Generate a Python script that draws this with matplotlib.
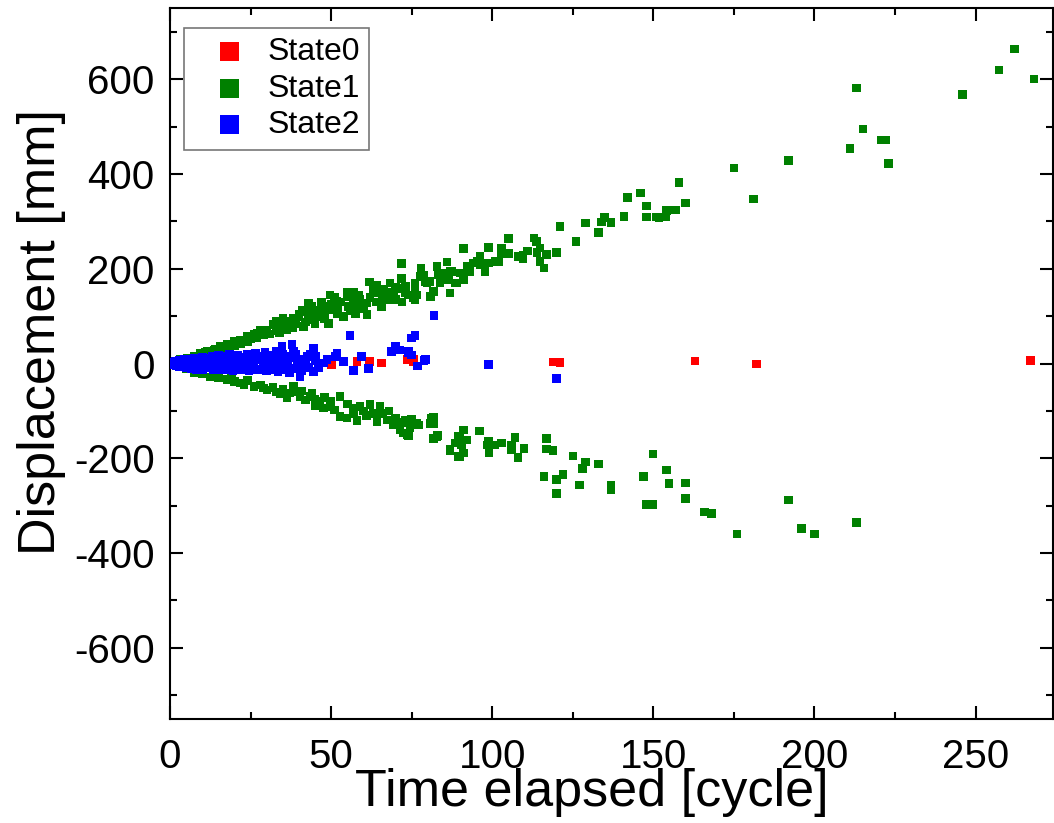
import numpy as np
import matplotlib
matplotlib.use('Agg')
import matplotlib.pyplot as plt
from matplotlib.ticker import MultipleLocator, AutoMinorLocator

plt.rcParams['font.family'] = ['Liberation Sans', 'DejaVu Sans']
plt.rcParams['axes.unicode_minus'] = False

# (cycle, displacement)
state0 = [(34.8, 8), (49.7, 8), (50.2, -3), (58.0, 4), (61.9, 4), (65.7, 1),
          (73.5, 8), (74.0, 8), (75.5, 8), (75.5, 4), (118.9, 3), (121.0, 2),
          (162.9, 5), (182.0, -1), (267.1, 6)]

state1 = [
    # far upper
    (175.0, 413), (181.1, 347), (191.9, 429), (213.1, 582), (215.1, 495), (211.0, 454),
    (220.6, 472), (222.2, 472), (223.0, 422), (246.0, 568), (257.2, 620), (262.1, 664),
    (268.1, 601),
    # far lower
    (165.9, -313), (168.0, -316), (176.0, -360), (191.9, -288), (196.0, -348),
    (200.0, -360), (213.1, -335),
    # lower band, middle
    (73.0, -120), (75.0, -118), (77.1, -130), (74.5, -136), (72.4, -147), (74.0, -153),
    (81.7, -113), (80.9, -126), (83.0, -152), (81.7, -158), (91.0, -140), (89.5, -154),
    (92.1, -161), (90.5, -172), (86.9, -183), (91.0, -189), (90.0, -196), (96.0, -142),
    (98.8, -165), (98.4, -172), (100.8, -172), (102.9, -168), (99.0, -189), (107.0, -156),
    (106.0, -172), (106.0, -182), (108.0, -198), (109.9, -179), (116.9, -158), (116.9, -180),
    (118.9, -184), (116.0, -239), (120.0, -245), (122.0, -234), (120.0, -274), (125.0, -195),
    (128.9, -208), (128.0, -221), (133.0, -212), (127.0, -256), (136.9, -257), (136.9, -267),
    (149.9, -191), (147.0, -239), (154.0, -225), (154.8, -253), (159.9, -252), (159.9, -285),
    (147.8, -298), (149.9, -298),
    # upper band, middle
    (157.9, 382), (159.9, 339), (156.9, 324), (154.0, 323), (153.8, 309), (151.7, 307),
    (150.9, 309), (147.9, 309), (147.9, 333), (146.0, 360), (141.9, 351), (140.9, 311),
    (136.9, 298), (134.8, 308), (133.9, 299), (133.0, 277), (128.9, 297), (126.0, 258),
    (121.0, 289), (120.0, 234), (116.9, 230), (116.0, 202), (114.8, 215), (112.9, 265),
    (113.8, 258), (114.8, 244), (113.9, 234), (111.0, 238), (109.6, 229), (108.0, 226),
    (109.6, 221), (105.0, 264), (105.0, 232), (102.9, 244), (102.9, 232), (101.9, 215),
    (100.8, 215), (98.9, 245), (97.7, 194), (98.8, 212), (96.2, 226), (96.2, 209),
    (95.2, 215), (94.1, 212), (93.1, 194), (92.1, 205), (91.0, 187), (90.0, 191),
    (91.0, 177), (89.0, 170), (91.0, 243), (85.9, 214), (86.9, 149), (82.8, 205),
    (83.3, 187), (84.3, 191), (84.8, 177), (83.8, 170), (86.4, 180), (87.4, 194),
    (81.7, 152), (80.9, 142), (77.9, 202), (77.6, 184), (79.2, 173), (80.7, 173),
    (76.0, 170), (76.0, 152), (76.6, 145), (76.0, 135), (72.9, 149), (71.9, 159),
    (71.9, 180), (71.9, 211), (78.6, 187), (79.7, 170), (85.9, 177), (88.4, 170), (86.9, 194),
    # upper band, near origin
    (75.5, 138), (73.0, 163), (69.3, 145), (68.3, 170), (67.3, 135), (65.7, 120),
    (66.2, 156), (64.2, 166), (61.9, 172), (63.1, 149), (61.1, 128), (61.1, 103),
    (58.5, 145), (60.0, 128), (56.9, 138), (57.5, 106), (54.9, 142), (55.4, 120),
    (53.8, 99), (51.8, 131), (50.7, 113), (49.2, 85), (49.7, 145), (47.6, 120),
    (46.6, 99), (44.5, 92), (42.5, 110), (41.0, 113), (41.4, 78), (38.4, 96),
    (36.3, 89), (36.3, 71), (34.2, 82), (32.2, 82), (30.1, 71), (28.0, 71),
    (26.0, 61), (23.9, 54), (21.8, 50), (19.8, 47), (17.7, 40), (15.6, 36),
    (13.6, 29), (11.5, 25), (9.4, 22), (7.4, 15), (5.3, 11), (3.3, 8),
    (60, 115), (58, 120), (56, 112), (52, 118), (50, 125), (48, 108), (46, 112),
    (45, 102), (44, 120), (43, 95), (40, 98), (39, 85), (38, 75), (35, 76), (33, 70),
    (31, 62), (29, 60), (27, 55), (25, 52), (24, 46), (22, 42), (20, 38), (18, 33),
    (16, 28), (14, 24), (12, 20), (10, 17), (8, 12), (6, 9), (4, 5), (2, 3),
    (62, 140), (64, 130), (66, 140), (68, 150), (70, 160), (70, 135), (72, 130),
    (74, 145), (65, 155), (63, 160), (59, 135), (57, 150), (53, 130), (52, 105),
    (48, 95), (47, 130), (45, 85), (42, 88), (40, 105), (37, 80), (34, 66), (30, 64),
    (27, 63), (24, 58), (20, 45), (17, 36), (14, 30), (11, 23), (33, 90), (35, 95),
    (43, 127), (51, 140), (55, 150),
    # lower band, near origin
    (7.4, -20), (12.5, -28), (17.7, -34), (21.8, -41), (26.0, -49), (30.1, -56),
    (34.2, -63), (36.3, -73), (38.4, -49), (40.4, -70), (43.5, -70), (46.6, -80),
    (47.6, -94), (49.7, -91), (52.8, -70), (52.8, -112), (54.9, -115), (56.9, -94),
    (59.0, -91), (62.1, -87), (63.1, -105), (65.2, -91), (64.2, -123), (67.3, -119),
    (69.3, -130), (71.4, -140), (73.5, -151), (74.0, -119), (76.6, -126), (81.2, -115),
    (81.7, -126), (82.8, -154), (86.9, -182), (90.0, -154), (89.5, -196), (88.4, -168),
    (3, -6), (5, -10), (9, -15), (10, -22), (14, -24), (15, -30), (19, -32), (20, -38),
    (23, -44), (24, -36), (28, -45), (29, -52), (32, -50), (33, -60), (35, -55),
    (37, -62), (39, -60), (41, -58), (42, -77), (44, -62), (45, -75), (48, -72),
    (50, -80), (51, -98), (55, -85), (57, -105), (60, -100), (61, -110), (66, -105),
    (68, -100), (70, -115), (72, -125), (58, -120), (45, -88),
]

state2 = [
    (34.8, 36), (37.9, 40), (38.4, 25), (35.8, 15), (39.4, 1), (40.4, -28), (42.5, 15),
    (44.5, 33), (45.1, 15), (44.5, -17), (47.6, 1), (48.7, 8), (51.3, 15), (51.8, 22),
    (53.8, 4), (55.9, 59), (56.9, -15), (59.5, 15), (61.6, -10), (68.8, 25), (69.9, 36),
    (74.0, 25), (75.0, 54), (76.0, 59), (76.8, -5), (79.2, 8), (81.9, 101), (71.4, 29),
    (74.0, 23), (75.0, 18), (78.8, 6), (98.8, -2), (120.0, -32),
    (0.5, 0), (1, 3), (1, -3), (1.5, 5), (2, -5), (2, 1), (3, 6), (3, -6), (3.5, 2),
    (4, -2), (4.5, 8), (5, -8), (5, 3), (6, 10), (6, -4), (6.5, -10), (7, 5), (7.5, 12),
    (8, -12), (8, 0), (9, 8), (9.5, -6), (10, 14), (10, -12), (11, 3), (11.5, -9),
    (12, 12), (12.5, -3), (13, 16), (13.5, -13), (14, 6), (14.5, -8), (15, 18), (15.5, 0),
    (16, -14), (16.5, 10), (17, -5), (17.5, 15), (18, -12), (18.5, 20), (19, 4),
    (19.5, -15), (20, 10), (20.5, -7), (21, 18), (21.5, -2), (22, -14), (22.5, 14),
    (23, 6), (23.5, -10), (24, 20), (24.5, -15), (25, 2), (25.5, 12), (26, -6),
    (26.5, 22), (27, -14), (27.5, 8), (28, 16), (28.5, -12), (29, 0), (29.5, 24),
    (30, -16), (30.5, 10), (31, -6), (31.5, 18), (32, -14), (32.5, 4), (33, 26),
    (33.5, -18), (34, 12), (34.5, -4), (35, 20), (36, -12), (36.5, 6), (37, -20),
    (38, 12), (38.5, -10), (39, 20), (40, -4), (40.5, 10), (41, -15), (42, 3),
    (43, -8), (43.5, 20), (45, 5), (46, -8),
]

x0, y0 = np.array(state0).T
x1, y1 = np.array(state1).T
x2, y2 = np.array(state2).T

fig = plt.figure(figsize=(10.54, 8.23), dpi=100)
ax = fig.add_axes([0.1613, 0.1266, 0.8377, 0.8633])

ms = 38
ax.scatter(x0, y0, s=ms, marker='s', color='#ff0000', edgecolors='none', zorder=3, label='State0')
ax.scatter(x1, y1, s=ms, marker='s', color='#008000', edgecolors='none', zorder=2, label='State1')
ax.scatter(x2, y2, s=ms, marker='s', color='#0000ff', edgecolors='none', zorder=4, label='State2')

ax.set_xlim(0, 274)
ax.set_ylim(-750, 750)
ax.xaxis.set_major_locator(MultipleLocator(50))
ax.xaxis.set_minor_locator(AutoMinorLocator(2))
ax.yaxis.set_major_locator(MultipleLocator(200))
ax.yaxis.set_minor_locator(AutoMinorLocator(2))

ax.tick_params(which='both', direction='in', top=True, right=True, width=1.5)
ax.tick_params(which='major', length=9.5, labelsize=29)
ax.tick_params(which='minor', length=5)
ax.tick_params(axis='x', which='major', pad=13.5)
ax.tick_params(axis='y', which='major', pad=11)
for sp in ax.spines.values():
    sp.set_linewidth(1.5)

# the label sits right under the tick numbers, as in the original
ax.set_xlabel('Time elapsed [cycle]', fontsize=37.5, va='baseline')
ax.set_ylabel('Displacement [mm]', fontsize=37.5)
ax.xaxis.set_label_coords(0.478, -0.1225)
ax.yaxis.set_label_coords(-0.118, 0.544)

leg = ax.legend(loc='upper left', bbox_to_anchor=(0.0159, 0.9727), borderaxespad=0,
                fontsize=23, markerscale=2.2, handlelength=2.25, handletextpad=0.05,
                borderpad=0.3, labelspacing=0.2, fancybox=False, edgecolor='#555555')
leg.get_frame().set_linewidth(1.2)

plt.savefig('out.png', dpi=100)
